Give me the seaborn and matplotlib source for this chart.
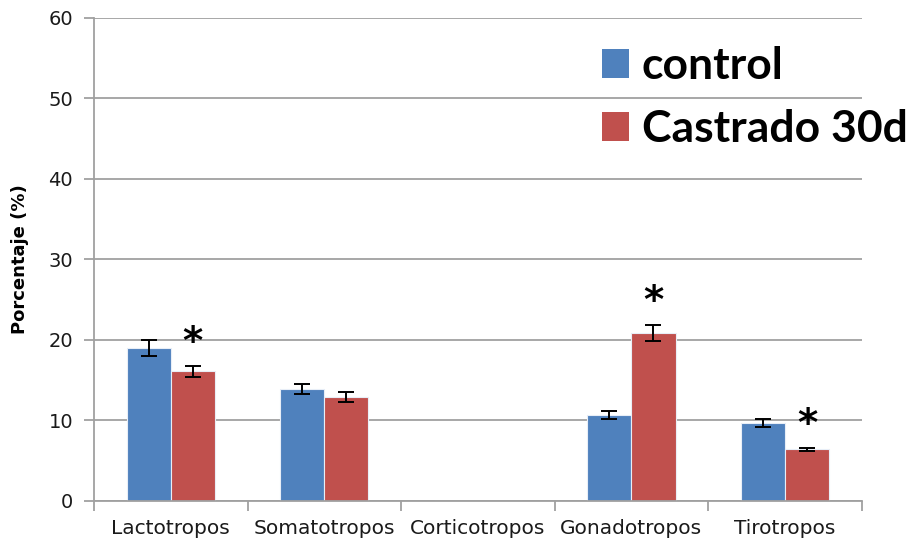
import matplotlib
matplotlib.use("Agg")
import matplotlib.pyplot as plt
import seaborn as sns
import pandas as pd
from matplotlib.patches import Patch

categories = ["Lactotropos", "Somatotropos", "Corticotropos", "Gonadotropos", "Tirotropos"]
groups = ["control", "Castrado 30d"]
control_vals = [19.0, 13.9, 0.0, 10.7, 9.7]
control_err = [1.0, 0.6, 0.0, 0.5, 0.5]
castrado_vals = [16.1, 12.9, 0.0, 20.9, 6.4]
castrado_err = [0.7, 0.6, 0.0, 1.0, 0.2]
significant = [True, False, False, True, True]  # castrado vs control
y_ticks = [0, 10, 20, 30, 40, 50, 60]

colors = {"control": "#4F81BD", "Castrado 30d": "#C0504D"}

df = pd.DataFrame({
    "categoria": categories * 2,
    "grupo": ["control"] * 5 + ["Castrado 30d"] * 5,
    "valor": control_vals + castrado_vals,
    "err": control_err + castrado_err,
})

sns.set_theme(style="white")
plt.rcParams["font.family"] = ["DejaVu Sans"]
plt.rcParams["text.color"] = "black"

fig = plt.figure(figsize=(9.08, 5.41), dpi=100)
ax = fig.add_axes([0.1035, 0.074, 0.8455, 0.893])

sns.barplot(data=df, x="categoria", y="valor", hue="grupo", order=categories,
            hue_order=groups, palette=colors, saturation=1, width=0.575,
            errorbar=None, edgecolor="#E8EEF7", linewidth=0.8, legend=False,
            ax=ax, zorder=2)

# error bars anchored on the drawn bars
for container, g in zip(ax.containers, groups):
    sub = df[df["grupo"] == g].set_index("categoria").loc[categories]
    for patch, (val, err) in zip(container.patches, zip(sub["valor"], sub["err"])):
        if val <= 0:
            continue
        cx = patch.get_x() + patch.get_width() / 2
        ax.errorbar(cx, patch.get_height(), yerr=err, fmt="none", ecolor="black",
                    elinewidth=1.4, capsize=6, capthick=1.4, zorder=3)

# significance marks over castrado bars
for patch, val, err, sig in zip(ax.containers[1].patches, castrado_vals, castrado_err, significant):
    if sig:
        cx = patch.get_x() + patch.get_width() / 2
        ax.text(cx, val + err + 0.5, "*", ha="center", va="bottom",
                fontsize=28, fontweight="bold", color="black", zorder=4)

ax.set_ylim(0, 60)
ax.set_xlim(-0.5, 4.5)
ax.set_yticks(y_ticks)
ax.set_yticklabels([str(t) for t in y_ticks], fontsize=14, color="#1a1a1a")
ax.yaxis.grid(True, color="#A0A0A0", linewidth=1.3, zorder=0)
ax.set_axisbelow(True)

ax.set_xticks(range(len(categories)))
ax.set_xticklabels(categories, fontsize=14.5, color="#1a1a1a")
ax.set_xticks([i - 0.5 for i in range(len(categories) + 1)], minor=True)
ax.tick_params(axis="x", which="major", length=0, pad=13)
ax.tick_params(axis="x", which="minor", length=7, width=1.3, color="#A0A0A0", direction="out", bottom=True)
ax.tick_params(axis="y", length=7, width=1.3, color="#A0A0A0", direction="out", left=True, pad=8)

ax.set_xlabel("")
ax.set_ylabel("Porcentaje (%)", fontsize=13, fontweight="bold", color="black")
ax.yaxis.set_label_coords(-0.085, 0.5)

for side in ["top", "right"]:
    ax.spines[side].set_visible(False)
for side in ["left", "bottom"]:
    ax.spines[side].set_color("#A0A0A0")
    ax.spines[side].set_linewidth(1.3)

handles = [Patch(facecolor=colors[g], edgecolor="none") for g in groups]
leg = ax.legend(handles, groups, loc="upper right", bbox_to_anchor=(1.112, 1.025),
                frameon=False, handlelength=0.62, handleheight=0.62, handletextpad=0.28,
                labelspacing=0.53, prop={"family": "Lato", "weight": "bold", "size": 32})
for t in leg.get_texts():
    t.set_color("black")

fig.savefig("out.png", dpi=100)
